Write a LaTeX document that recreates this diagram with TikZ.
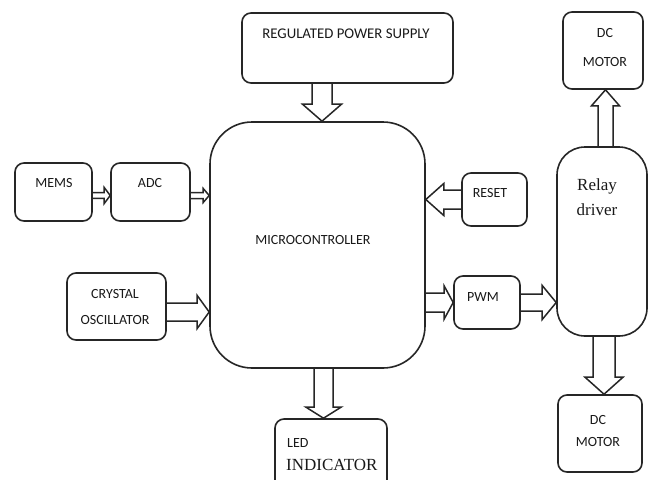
\documentclass[tikz,border=0pt]{standalone}
\usepackage{fontspec}
\setmainfont{Carlito}
\newfontfamily\serifface{Liberation Serif}
\usetikzlibrary{calc}
\pgfdeclarelayer{bg}
\pgfsetlayers{bg,main}
\tikzset{
  box/.style={draw=black!85, line width=1.6pt, rounded corners=9pt, inner sep=0pt},
  txt/.style={font=\fontsize{14}{15}\selectfont, inner sep=0pt, text=black!90},
  stxt/.style={font=\serifface\fontsize{17}{19}\selectfont, inner sep=0pt, text=black!90},
  blockarr/.style={draw=black!85, line width=1.5pt, fill=white, line join=miter}
}
% from, to, shaft half width, head half width, head length
\newcommand\blockarrow[5]{%
  \draw[blockarr] let \p1=(#1), \p2=(#2),
    \n1={atan2(\y2-\y1,\x2-\x1)}, \n2={veclen(\x2-\x1,\y2-\y1)} in
    {[shift={(\p1)}, rotate=\n1]
      (0pt,#3pt) -- ({(\n2-#5)*1pt},#3pt) -- ({(\n2-#5)*1pt},#4pt)
      -- ({\n2*1pt},0pt) -- ({(\n2-#5)*1pt},-#4pt) -- ({(\n2-#5)*1pt},-#3pt)
      -- (0pt,-#3pt)};%
}
\begin{document}
\begin{tikzpicture}[x=1pt,y=-1pt]
\clip (0,0) rectangle (652,479);

% boxes
\node[box, minimum width=211pt, minimum height=70pt] (power) at (347.5,48) {};
\node[txt, font=\fontsize{14.8}{16}\selectfont] (powerT) at (346,34) {REGULATED POWER SUPPLY};

\node[box, minimum width=77pt, minimum height=58pt] (mems) at (53.5,192) {};
\node[txt] (memsT) at (54,183) {MEMS};

\node[box, minimum width=79pt, minimum height=58pt] (adc) at (150.5,192) {};
\node[txt] (adcT) at (150,183) {ADC};

\node[box, minimum width=99pt, minimum height=67pt] (crystal) at (116.5,306.5) {};
\node[txt, align=center, font=\fontsize{14}{25}\selectfont] (crystalT) at (115,307) {CRYSTAL\\OSCILLATOR};

\node[box, rounded corners=42pt, minimum width=215pt, minimum height=246pt] (mc) at (317.5,245) {};
\node[txt] (mcT) at (313,240) {MICROCONTROLLER};

\node[box, minimum width=65pt, minimum height=53pt] (reset) at (494.5,199.5) {};
\node[txt] (resetT) at (490,193) {RESET};

\node[box, rounded corners=28pt, minimum width=90pt, minimum height=189pt] (relay) at (602,241.5) {};
\node[stxt, align=center, font=\serifface\fontsize{17}{25}\selectfont] (relayT) at (597,197) {Relay\\driver};

\node[box, minimum width=66pt, minimum height=53pt] (pwm) at (487,302.5) {};
\node[txt] (pwmT) at (483,297) {PWM};

\node[box, minimum width=84pt, minimum height=77pt] (dcb) at (600,433.5) {};
\node[txt, align=center, font=\fontsize{14}{22}\selectfont] (dcbT) at (598,431) {DC\\MOTOR};

\node[box, minimum width=80pt, minimum height=77pt] (dct) at (603,50.5) {};
\node[txt, align=center, font=\fontsize{14}{29}\selectfont] (dctT) at (605,47.5) {DC\\MOTOR};

\node[box, minimum width=112pt, minimum height=72pt] (led) at (331,455) {};
\node[txt, anchor=west] (ledT1) at (287,443) {LED};
\node[stxt, anchor=west] (ledT2) at (286,465) {INDICATOR};

% background and arrows
\begin{pgfonlayer}{bg}
\fill[white] (0,0) rectangle (652,479);
\blockarrow{$(mems.east)+(0,3.5)$}{$(adc.west)+(0,3.5)$}{2.8}{8}{6}
\blockarrow{$(adc.east)+(0,3.5)$}{$(adc.east -| mc.west)+(0,3.5)$}{3}{7}{6}
\blockarrow{$(power.south)+(-25.5,0)$}{$(power.south |- mc.north)+(-25.5,0)$}{10}{19.5}{17}
\blockarrow{$(crystal.east)+(0,5.5)$}{$(crystal.east -| mc.west)+(0,5.5)$}{9}{16.5}{12}
\blockarrow{reset.west}{reset.west -| mc.east}{9.5}{16}{18}
\blockarrow{pwm.west -| mc.east}{pwm.west}{9.5}{16.5}{9}
\blockarrow{pwm.east}{pwm.east -| relay.west}{8.5}{17}{14}
\blockarrow{$(dcb.north |- relay.south)+(4,0)$}{$(dcb.north)+(4,0)$}{11}{19}{17}
\blockarrow{$(dct.south |- relay.north)+(2.5,0)$}{$(dct.south)+(2.5,0)$}{7.5}{14}{16}
\blockarrow{$(led.north |- mc.south)+(-7.5,0)$}{$(led.north)+(-7.5,0)$}{9.5}{17.5}{11}
\end{pgfonlayer}
\end{tikzpicture}
\end{document}
